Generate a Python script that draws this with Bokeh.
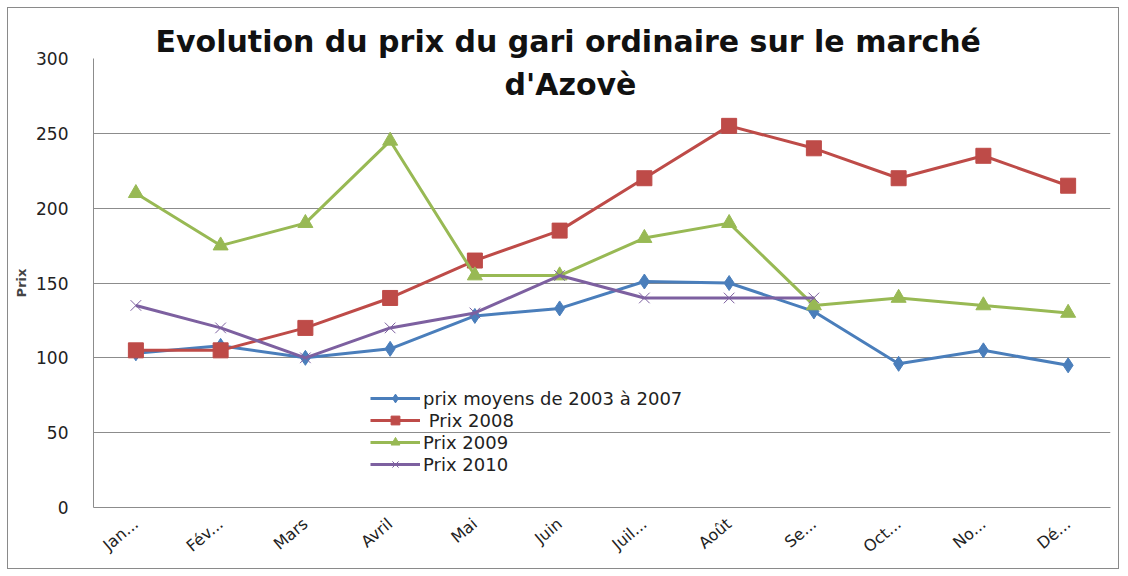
from bokeh.plotting import figure
from bokeh.models import Label, Legend, LegendItem, FixedTicker, Range1d, FactorRange
from bokeh.embed import file_html
from bokeh.resources import INLINE

months = ["Jan...", "Fév...", "Mars", "Avril", "Mai", "Juin", "Juil...", "Août", "Se...", "Oct...", "No...", "Dé..."]
prix_moyens = [103, 108, 100, 106, 128, 133, 151, 150, 131, 96, 105, 95]
prix_2008 = [105, 105, 120, 140, 165, 185, 220, 255, 240, 220, 235, 215]
prix_2009 = [210, 175, 190, 245, 155, 155, 180, 190, 135, 140, 135, 130]
prix_2010 = [135, 120, 100, 120, 130, 155, 140, 140, 140]
months_2010 = months[:9]
y_ticks = [0, 50, 100, 150, 200, 250, 300]

FONT = "DejaVu Sans"

p = figure(width=1112, height=562, x_range=FactorRange(*months, range_padding=0),
           y_range=Range1d(0, 300), output_backend="svg", toolbar_location=None,
           min_border_left=85, min_border_right=10, min_border_top=50, min_border_bottom=63,
           title="Evolution du prix du gari ordinaire sur le marché")
p.outline_line_color = None
p.styles = {"border": "1px solid #8a8a8a", "margin-left": "7px", "margin-top": "7px"}

p.title.text_font = FONT
p.title.text_font_size = "30px"
p.title.text_font_style = "bold"
p.title.text_color = "#111111"
p.title.align = "left"
p.title.offset = 62
p.title.standoff = 0
p.title.vertical_align = "bottom"

p.xgrid.grid_line_color = None
p.ygrid.grid_line_color = "#8c8c8c"
p.ygrid.grid_line_width = 1
p.yaxis.ticker = FixedTicker(ticks=y_ticks)
for ax in (p.xaxis[0], p.yaxis[0]):
    ax.axis_line_color = "#8c8c8c"
    ax.major_tick_line_color = None
    ax.minor_tick_line_color = None
    ax.major_label_text_font = FONT
    ax.major_label_text_color = "#222222"
p.yaxis.major_label_text_font_size = "17px"
p.yaxis.major_label_standoff = 19
p.yaxis.axis_label = "Prix"
p.yaxis.axis_label_text_font = FONT
p.yaxis.axis_label_text_font_style = "bold"
p.yaxis.axis_label_text_font_size = "13px"
p.yaxis.axis_label_standoff = 4
p.xaxis.major_label_text_font_size = "16px"
p.xaxis.major_label_orientation = 0.7
p.xaxis.major_label_standoff = 8

blue, red, green, purple = "#4a7ebb", "#be4b48", "#98b954", "#7d60a0"

l1 = p.line(months, prix_moyens, line_color=blue, line_width=3)
m1 = p.scatter(months, prix_moyens, marker="diamond", size=15, fill_color=blue, line_color=blue)
l2 = p.line(months, prix_2008, line_color=red, line_width=3)
m2 = p.scatter(months, prix_2008, marker="square", size=15, fill_color=red, line_color=red)
l3 = p.line(months, prix_2009, line_color=green, line_width=3)
m3 = p.scatter(months, prix_2009, marker="triangle", size=15, fill_color=green, line_color=green)
l4 = p.line(months_2010, prix_2010, line_color=purple, line_width=3)
m4 = p.scatter(months_2010, prix_2010, marker="x", size=15, line_color=purple, line_width=1)

legend = Legend(items=[
    LegendItem(label="prix moyens de 2003 à 2007", renderers=[l1, m1]),
    LegendItem(label=" Prix 2008", renderers=[l2, m2]),
    LegendItem(label="Prix 2009", renderers=[l3, m3]),
    LegendItem(label="Prix 2010", renderers=[l4, m4]),
], location=(277, 32), background_fill_alpha=0, border_line_color=None,
    padding=0, margin=0, spacing=0, glyph_width=50, glyph_height=22, label_height=22,
    label_standoff=3, label_text_font=FONT, label_text_font_size="18px",
    label_text_color="#222222")
p.add_layout(legend, "center")

t2 = Label(x=477, y=423, x_units="screen", y_units="screen", text="d'Azovè",
           text_align="center", text_baseline="alphabetic", text_font=FONT,
           text_font_style="bold", text_font_size="30px", text_color="#111111")
p.add_layout(t2)

open("out.html", "w").write(file_html(p, INLINE))
